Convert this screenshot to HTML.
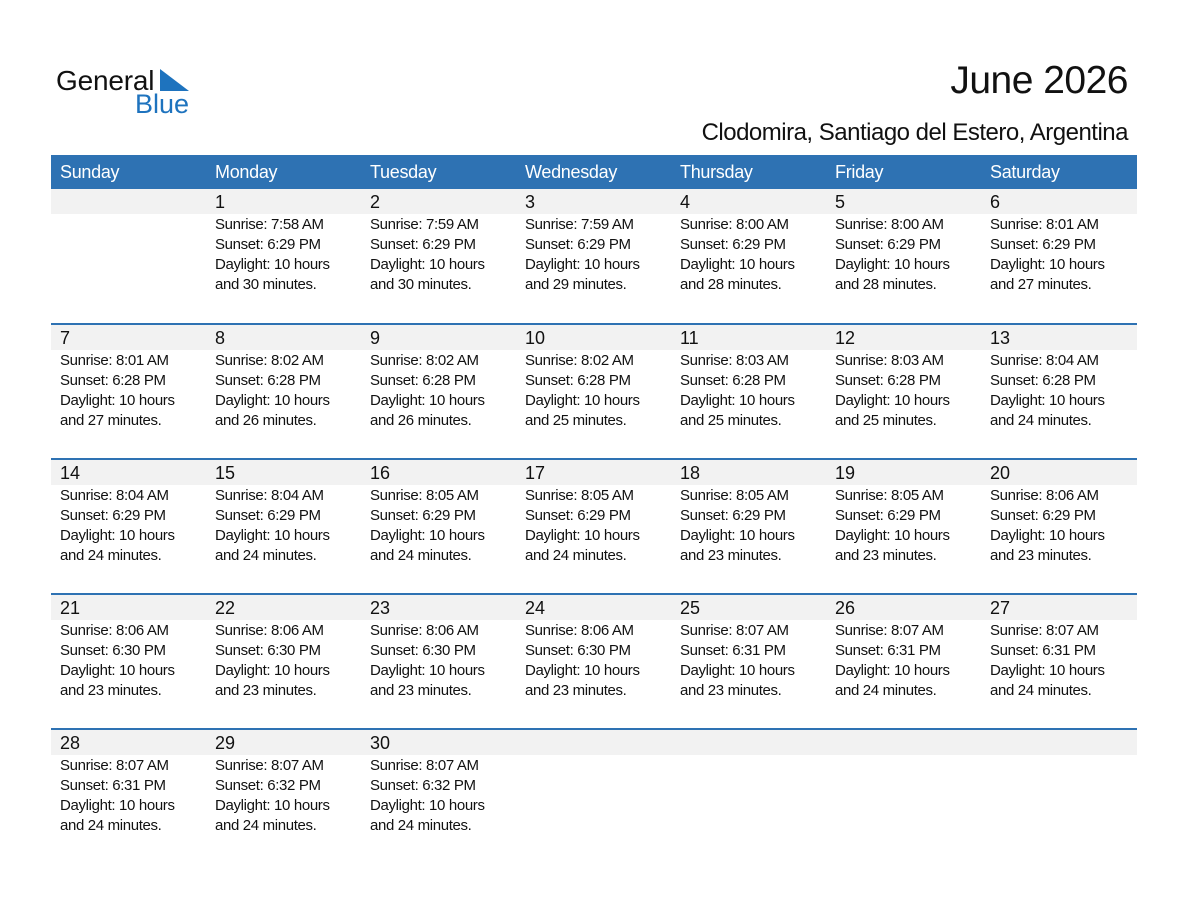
<!DOCTYPE html>
<html><head><meta charset="utf-8"><style>
body{margin:0;width:1188px;height:918px;background:#fff;font-family:"Liberation Sans",sans-serif;color:#111;position:relative;overflow:hidden}
.t{position:absolute;right:60px;top:59px;font-size:39px;letter-spacing:-0.5px}
.s{position:absolute;right:60px;top:119px;font-size:24px;letter-spacing:-0.5px}
.hd{position:absolute;left:51px;top:155px;width:1086px;height:34px;background:#2e72b3;display:flex}
.hd div{width:155px;color:#fff;font-size:18px;line-height:34px;padding-left:9px;box-sizing:border-box;letter-spacing:-0.3px}
.wk{position:absolute;left:51px;width:1086px;height:135px}
.wk.b{border-top:2px solid #2e72b3}
.band{position:absolute;left:0;top:0;width:1086px;height:25px;background:#f2f2f2}
.c{position:absolute;top:0;width:155px;padding-left:9px;box-sizing:border-box}
.n{font-size:18px;line-height:25px;height:25px;padding-top:1px;box-sizing:border-box}
.x{font-size:15px;line-height:20px;letter-spacing:-0.35px;padding-top:1px}
</style></head><body>
<svg style="position:absolute;left:55px;top:64px" width="140" height="54">
<text x="1" y="26" font-family="Liberation Sans" font-size="28" fill="#111" letter-spacing="-0.2">General</text>
<polygon points="105,5 105,27 134,27" fill="#1e73be"/>
<text x="80" y="49" font-family="Liberation Sans" font-size="27" fill="#1e73be">Blue</text>
</svg>
<div class="t">June 2026</div>
<div class="s">Clodomira, Santiago del Estero, Argentina</div>
<div class="hd"><div>Sunday</div><div>Monday</div><div>Tuesday</div><div>Wednesday</div><div>Thursday</div><div>Friday</div><div>Saturday</div></div>

<div class="wk" style="top:189px"><div class="band"></div>
<div class="c" style="left:155px"><div class="n">1</div><div class="x">Sunrise: 7:58 AM<br>Sunset: 6:29 PM<br>Daylight: 10 hours<br>and 30 minutes.</div></div>
<div class="c" style="left:310px"><div class="n">2</div><div class="x">Sunrise: 7:59 AM<br>Sunset: 6:29 PM<br>Daylight: 10 hours<br>and 30 minutes.</div></div>
<div class="c" style="left:465px"><div class="n">3</div><div class="x">Sunrise: 7:59 AM<br>Sunset: 6:29 PM<br>Daylight: 10 hours<br>and 29 minutes.</div></div>
<div class="c" style="left:620px"><div class="n">4</div><div class="x">Sunrise: 8:00 AM<br>Sunset: 6:29 PM<br>Daylight: 10 hours<br>and 28 minutes.</div></div>
<div class="c" style="left:775px"><div class="n">5</div><div class="x">Sunrise: 8:00 AM<br>Sunset: 6:29 PM<br>Daylight: 10 hours<br>and 28 minutes.</div></div>
<div class="c" style="left:930px"><div class="n">6</div><div class="x">Sunrise: 8:01 AM<br>Sunset: 6:29 PM<br>Daylight: 10 hours<br>and 27 minutes.</div></div>
</div>

<div class="wk b" style="top:323px"><div class="band"></div>
<div class="c" style="left:0px"><div class="n">7</div><div class="x">Sunrise: 8:01 AM<br>Sunset: 6:28 PM<br>Daylight: 10 hours<br>and 27 minutes.</div></div>
<div class="c" style="left:155px"><div class="n">8</div><div class="x">Sunrise: 8:02 AM<br>Sunset: 6:28 PM<br>Daylight: 10 hours<br>and 26 minutes.</div></div>
<div class="c" style="left:310px"><div class="n">9</div><div class="x">Sunrise: 8:02 AM<br>Sunset: 6:28 PM<br>Daylight: 10 hours<br>and 26 minutes.</div></div>
<div class="c" style="left:465px"><div class="n">10</div><div class="x">Sunrise: 8:02 AM<br>Sunset: 6:28 PM<br>Daylight: 10 hours<br>and 25 minutes.</div></div>
<div class="c" style="left:620px"><div class="n">11</div><div class="x">Sunrise: 8:03 AM<br>Sunset: 6:28 PM<br>Daylight: 10 hours<br>and 25 minutes.</div></div>
<div class="c" style="left:775px"><div class="n">12</div><div class="x">Sunrise: 8:03 AM<br>Sunset: 6:28 PM<br>Daylight: 10 hours<br>and 25 minutes.</div></div>
<div class="c" style="left:930px"><div class="n">13</div><div class="x">Sunrise: 8:04 AM<br>Sunset: 6:28 PM<br>Daylight: 10 hours<br>and 24 minutes.</div></div>
</div>

<div class="wk b" style="top:458px"><div class="band"></div>
<div class="c" style="left:0px"><div class="n">14</div><div class="x">Sunrise: 8:04 AM<br>Sunset: 6:29 PM<br>Daylight: 10 hours<br>and 24 minutes.</div></div>
<div class="c" style="left:155px"><div class="n">15</div><div class="x">Sunrise: 8:04 AM<br>Sunset: 6:29 PM<br>Daylight: 10 hours<br>and 24 minutes.</div></div>
<div class="c" style="left:310px"><div class="n">16</div><div class="x">Sunrise: 8:05 AM<br>Sunset: 6:29 PM<br>Daylight: 10 hours<br>and 24 minutes.</div></div>
<div class="c" style="left:465px"><div class="n">17</div><div class="x">Sunrise: 8:05 AM<br>Sunset: 6:29 PM<br>Daylight: 10 hours<br>and 24 minutes.</div></div>
<div class="c" style="left:620px"><div class="n">18</div><div class="x">Sunrise: 8:05 AM<br>Sunset: 6:29 PM<br>Daylight: 10 hours<br>and 23 minutes.</div></div>
<div class="c" style="left:775px"><div class="n">19</div><div class="x">Sunrise: 8:05 AM<br>Sunset: 6:29 PM<br>Daylight: 10 hours<br>and 23 minutes.</div></div>
<div class="c" style="left:930px"><div class="n">20</div><div class="x">Sunrise: 8:06 AM<br>Sunset: 6:29 PM<br>Daylight: 10 hours<br>and 23 minutes.</div></div>
</div>

<div class="wk b" style="top:593px"><div class="band"></div>
<div class="c" style="left:0px"><div class="n">21</div><div class="x">Sunrise: 8:06 AM<br>Sunset: 6:30 PM<br>Daylight: 10 hours<br>and 23 minutes.</div></div>
<div class="c" style="left:155px"><div class="n">22</div><div class="x">Sunrise: 8:06 AM<br>Sunset: 6:30 PM<br>Daylight: 10 hours<br>and 23 minutes.</div></div>
<div class="c" style="left:310px"><div class="n">23</div><div class="x">Sunrise: 8:06 AM<br>Sunset: 6:30 PM<br>Daylight: 10 hours<br>and 23 minutes.</div></div>
<div class="c" style="left:465px"><div class="n">24</div><div class="x">Sunrise: 8:06 AM<br>Sunset: 6:30 PM<br>Daylight: 10 hours<br>and 23 minutes.</div></div>
<div class="c" style="left:620px"><div class="n">25</div><div class="x">Sunrise: 8:07 AM<br>Sunset: 6:31 PM<br>Daylight: 10 hours<br>and 23 minutes.</div></div>
<div class="c" style="left:775px"><div class="n">26</div><div class="x">Sunrise: 8:07 AM<br>Sunset: 6:31 PM<br>Daylight: 10 hours<br>and 24 minutes.</div></div>
<div class="c" style="left:930px"><div class="n">27</div><div class="x">Sunrise: 8:07 AM<br>Sunset: 6:31 PM<br>Daylight: 10 hours<br>and 24 minutes.</div></div>
</div>

<div class="wk b" style="top:728px"><div class="band"></div>
<div class="c" style="left:0px"><div class="n">28</div><div class="x">Sunrise: 8:07 AM<br>Sunset: 6:31 PM<br>Daylight: 10 hours<br>and 24 minutes.</div></div>
<div class="c" style="left:155px"><div class="n">29</div><div class="x">Sunrise: 8:07 AM<br>Sunset: 6:32 PM<br>Daylight: 10 hours<br>and 24 minutes.</div></div>
<div class="c" style="left:310px"><div class="n">30</div><div class="x">Sunrise: 8:07 AM<br>Sunset: 6:32 PM<br>Daylight: 10 hours<br>and 24 minutes.</div></div>
</div>
</body></html>
